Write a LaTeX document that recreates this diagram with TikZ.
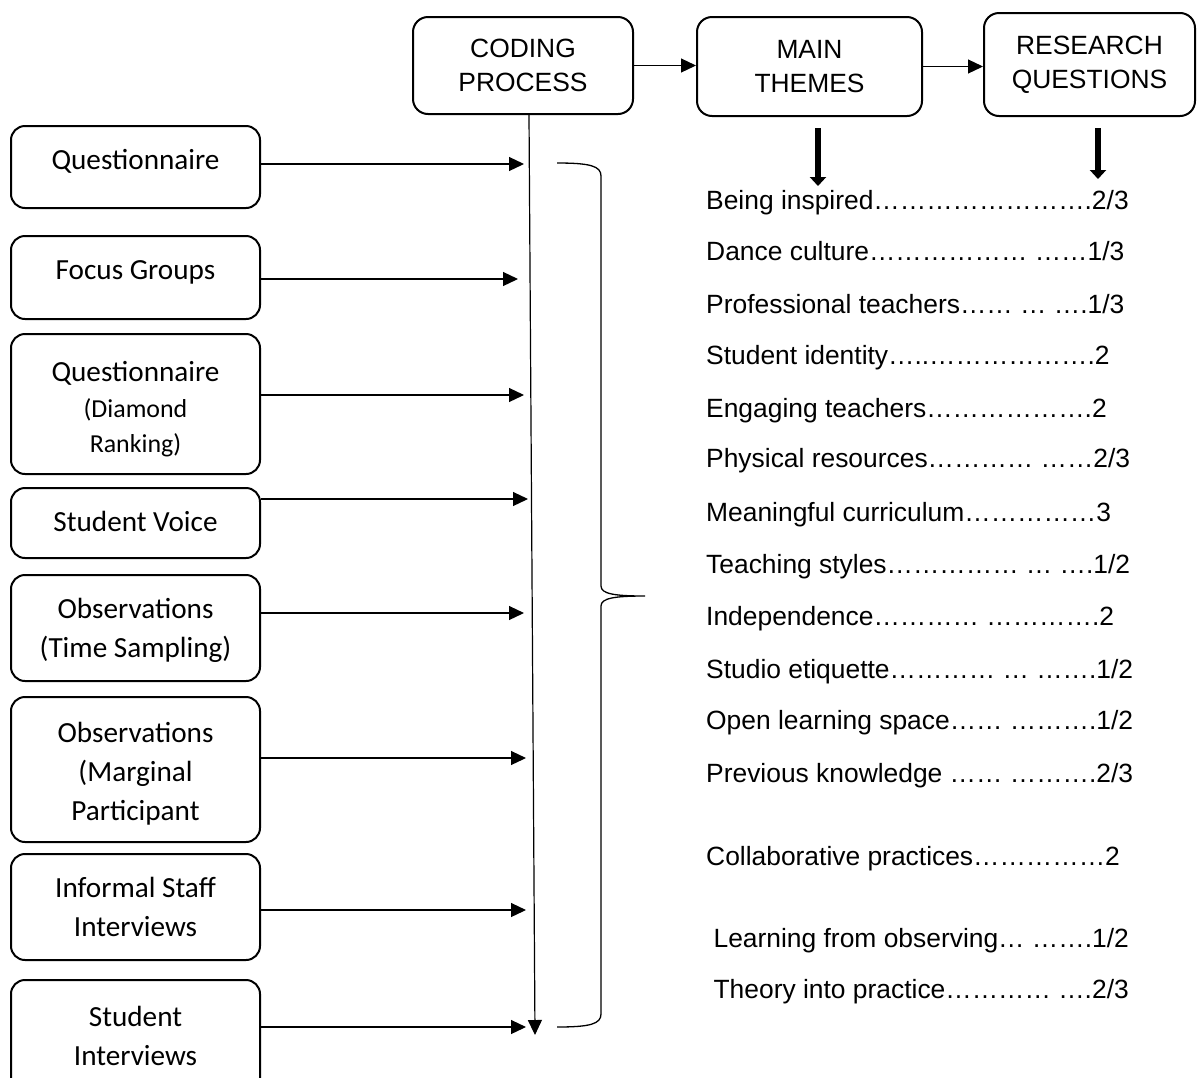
\documentclass[tikz,border=0pt]{standalone}
\usepackage{fontspec}
\setmainfont{Liberation Sans}
\newfontfamily\calibrifont{Carlito}
\usetikzlibrary{arrows.meta,calc}

% a run of n ellipsis characters
\newcommand\lead[1]{\foreach\j in {1,...,#1}{\char"2026}}

\begin{document}
\begin{tikzpicture}[x=1pt,y=-1pt,
  topbox/.style={draw, line width=2pt, rounded corners=15pt, align=center, inner sep=0pt,
    font=\fontsize{26.4}{34}\selectfont},
  srcbox/.style={draw, line width=2pt, rounded corners=14pt, minimum width=249pt, align=center,
    inner sep=0pt, font=\calibrifont\fontsize{29.2}{39}\selectfont},
  arr/.style={line width=1.2pt, -{Triangle[length=15pt,width=14pt]}},
  bigarr/.style={line width=6.5pt, -{Triangle[length=9pt,width=16pt]}},
  theme/.style={anchor=base west, inner sep=0pt, font=\fontsize{26.4}{32}\selectfont},
]
\useasboundingbox (0,0) rectangle (1197,1077);

% process boxes along the top
\node[topbox, minimum width=220pt, minimum height=97pt]  (code) at (523,65.5)   {CODING\\PROCESS};
\node[topbox, minimum width=225pt, minimum height=99pt]  (mt)   at (809.5,66.5) {MAIN\\THEMES};
\node[topbox, minimum width=211pt, minimum height=103pt] (rq)   at (1089.5,64.5) {RESEARCH\\QUESTIONS};

\draw[arr] (code.east) -- (code.east -| mt.west);
\draw[arr] (mt.east) -- (mt.east -| rq.west);

\draw[bigarr] ($(mt.south)+(8.5,11)$) -- ($(mt.south)+(8.5,69)$);
\draw[bigarr] ($(rq.south)+(8.5,11)$) -- ($(rq.south)+(8.5,62)$);

% data sources
\node[srcbox, minimum height=82pt, text height=19pt, text depth=15pt] (s1) at (135.5,167) {Questionnaire};
\node[srcbox, minimum height=83pt, text height=19pt, text depth=16pt] (s2) at (135.5,277.5) {Focus Groups};
\node[srcbox, minimum height=140pt] (s3) at (135.5,404)
  {\rule{0pt}{30pt}Questionnaire\\[-3pt]{\fontsize{25.9}{35}\selectfont(Diamond}\\[-4pt]{\fontsize{25.9}{35}\selectfont Ranking)}};
\node[srcbox, minimum height=70pt, text height=19pt, text depth=3pt] (s4) at (135.5,523) {Student Voice};
\node[srcbox, minimum height=106pt] (s5) at (135.5,628)    {\rule{0pt}{24.5pt}Observations\\(Time Sampling)};
\node[srcbox, minimum height=145pt] (s6) at (135.5,769.5)  {\rule{0pt}{28.5pt}Observations\\(Marginal\\Participant};
\node[srcbox, minimum height=106pt] (s7) at (135.5,907)    {Informal Staff\\Interviews};
\node[srcbox, minimum height=112pt] (s8) at (135.5,1036)   {Student\\Interviews};

% arrow tips at the coding line
\coordinate (t1) at (524,164);
\coordinate (t2) at (518,279);
\coordinate (t3) at (524,395);
\coordinate (t4) at (528,499);
\coordinate (t5) at (524,613);
\coordinate (t6) at (526,758);
\coordinate (t7) at (526,910);
\coordinate (t8) at (526,1027);
\foreach \i in {1,...,8} \draw[arr] (s\i.east |- t\i) -- (t\i);

% coding line
\coordinate (vend) at (535,1035);
\draw[arr] ([xshift=6pt]code.south) -- (vend);

% brace
\draw[line width=1.3pt] (557,163) .. controls (590,163) and (601,166) .. (601,176)
  -- (601,586) .. controls (601,594) and (615,596) .. (645,596)
  .. controls (615,596) and (601,598) .. (601,606)
  -- (601,1014) .. controls (601,1024) and (590,1027) .. (557,1027);

% themes with research questions
\node[theme] (th1)  at (706,209) {Being inspired\lead{8}.2/3};
\node[theme] (th2)  at (706,260) {Dance culture\lead{6} \lead{2}1/3};
\node[theme] (th3)  at (706,313) {Professional teachers\lead{2} \lead{1} \lead{1}.1/3};
\node[theme] (th4)  at (706,364) {Student identity\lead{1}..\lead{6}.2};
\node[theme] (th5)  at (706,417) {Engaging teachers\lead{6}.2};
\node[theme] (th6)  at (706,467) {Physical resources\lead{4} \lead{2}2/3};
\node[theme] (th7)  at (706,521) {Meaningful curriculum\lead{5}3};
\node[theme] (th8)  at (706,573) {Teaching styles\lead{5} \lead{1} \lead{1}.1/2};
\node[theme] (th9)  at (706,625) {Independence\lead{4} \lead{4}.2};
\node[theme] (th10) at (706,678) {Studio etiquette\lead{4} \lead{1} \lead{2}.1/2};
\node[theme] (th11) at (706,729) {Open learning space\lead{2} \lead{3}.1/2};
\node[theme] (th12) at (706,782) {Previous knowledge \lead{2} \lead{3}.2/3};
\node[theme] (th13) at (706,865) {Collaborative practices\lead{5}2};
\node[theme] (th14) at (713.4,947) {Learning from observing\lead{1} \lead{2}.1/2};
\node[theme] (th15) at (713.4,998) {Theory into practice\lead{4} \lead{1}.2/3};
\end{tikzpicture}
\end{document}
